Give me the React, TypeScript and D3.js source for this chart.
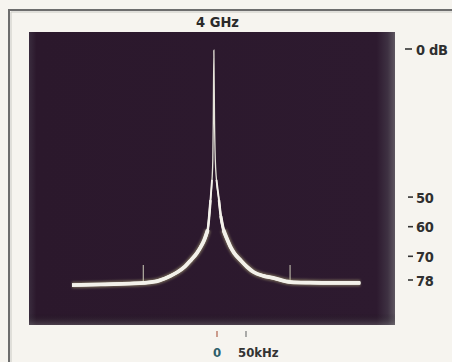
import React from "react";
import * as d3 from "d3";

const title = "4 GHz";
const freqKHz = [-250, -200, -150, -127, -100, -80, -68, -55, -45, -35, -28, -22, -16, -11.2, -8.6, -7.2, -6.4, -5.4, -4.3, -3.0, -0.9, 3.4, 6.5, 11.2, 17, 23.3, 30, 40.5, 52, 63, 80, 97, 127, 160, 200, 247];
const levelDb = [-79.7, -79.5, -79.2, -79.0, -78.2, -76.6, -75.3, -73.4, -71.3, -69.0, -66.8, -64.5, -61.1, -51.0, -44.2, -37.1, -24.0, -0.4, -24.0, -37.1, -44.2, -51.0, -56.4, -61.1, -64.0, -66.8, -69.0, -71.3, -73.6, -75.3, -76.6, -77.3, -78.7, -78.9, -79.0, -79.0];
const markerKHz = [-127, 126];
const markerTopDb = -72.9;
const markerBottomDb = -78.7;
const yTickValues = [0, -50, -60, -70, -78];
const yTickLabels = ["0 dB", "50", "60", "70", "78"];
const xTickValues = [0, 50];
const xTickLabels = ["0", "50kHz"];

const W = 452;
const H = 362;
const panel = { x0: 29, y0: 32, x1: 395, y1: 325 };

type P = { f: number; v: number };

export default function App() {
  const x = d3.scaleLinear().domain([0, 50]).range([217, 246]);
  const y = d3.scaleLinear().domain([0, -78]).range([49, 280]);
  const pts: P[] = freqKHz.map((f, i) => ({ f, v: levelDb[i] }));

  const mk = (thr: number | null) =>
    d3
      .line<P>()
      .defined((d) => (thr === null ? true : d.v <= thr))
      .x((d) => x(d.f))
      .y((d) => y(d.v))
      .curve(d3.curveMonotoneX)(pts) as string;
  const full = mk(null);
  const layers = [
    { thr: -44, w: 1.9 },
    { thr: -50, w: 2.5 },
    { thr: -56, w: 3.1 },
    { thr: -60, w: 3.8 },
  ];
  const glowPath = mk(-60);

  const font = "'DejaVu Sans Condensed', 'Liberation Sans Narrow', 'DejaVu Sans', sans-serif";

  return (
    <svg
      width={W}
      height={H}
      style={{ position: "absolute", left: 0, top: 0, background: "#f6f4ef" }}
    >
      <defs>
        <linearGradient id="panelH" x1="0" x2="1" y1="0" y2="0">
          <stop offset="0" stopColor="#3a2c3e" />
          <stop offset="0.02" stopColor="#2b182c" />
          <stop offset="0.95" stopColor="#2d1a2f" />
          <stop offset="0.98" stopColor="#3e3142" />
          <stop offset="1" stopColor="#5e5660" />
        </linearGradient>
        <linearGradient id="panelV" x1="0" x2="0" y1="0" y2="1">
          <stop offset="0" stopColor="#000" stopOpacity="0" />
          <stop offset="0.96" stopColor="#000" stopOpacity="0" />
          <stop offset="1" stopColor="#888" stopOpacity="0.35" />
        </linearGradient>
        <filter id="glow" x="-20%" y="-20%" width="140%" height="140%">
          <feGaussianBlur stdDeviation="1.3" />
        </filter>
      </defs>
      {/* outer frame */}
      <path d={`M9,${H} L9,10 L${W},10`} fill="none" stroke="#6d6d6d" strokeWidth={2} />
      <path d={`M11,${H} L11,12 L${W},12`} fill="none" stroke="#c9c9c4" strokeWidth={1} />
      <text x={217.5} y={27} textAnchor="middle" fontFamily={font} fontWeight="bold" fontSize={14.5} fill="#2a2a2a">
        {title}
      </text>
      {/* screen */}
      <rect x={panel.x0} y={panel.y0} width={panel.x1 - panel.x0} height={panel.y1 - panel.y0} fill="url(#panelH)" />
      <rect x={panel.x0} y={panel.y0} width={panel.x1 - panel.x0} height={panel.y1 - panel.y0} fill="url(#panelV)" />
      {/* markers */}
      {markerKHz.map((m, i) => (
        <line key={i} x1={x(m)} x2={x(m)} y1={y(markerTopDb)} y2={y(markerBottomDb)} stroke="#a9a49a" strokeWidth={1.3} />
      ))}
      {/* trace */}
      <path d={glowPath} fill="none" stroke="#cfcb8a" strokeOpacity={0.4} strokeWidth={6.5} filter="url(#glow)" />
      <path d={full} fill="none" stroke="#e6e4da" strokeWidth={1.3} />
      {layers.map((l, i) => (
        <path key={i} d={mk(l.thr)} fill="none" stroke="#f3f1ea" strokeWidth={l.w} strokeLinejoin="round" />
      ))}
      {/* right axis */}
      {yTickValues.map((v, i) => (
        <g key={i} transform={`translate(0,${y(v)})`}>
          <line x1={i === 0 ? 405 : 408} x2={i === 0 ? 412 : 413} y1={0} y2={0} stroke="#333" strokeWidth={1.6} />
          <text x={416} y={5.5} fontFamily={font} fontWeight="bold" fontSize={14.5} letterSpacing={-0.3} fill="#2f2f2f">
            {yTickLabels[i]}
          </text>
        </g>
      ))}
      {/* bottom axis */}
      {xTickValues.map((v, i) => (
        <g key={i}>
          <line x1={x(v)} x2={x(v)} y1={331} y2={337} stroke={i === 0 ? "#b0604a" : "#777"} strokeWidth={1.2} />
          <text
            x={i === 0 ? x(v) : x(v) - 8}
            y={357}
            textAnchor={i === 0 ? "middle" : "start"}
            fontFamily={font}
            fontWeight="bold"
            fontSize={13}
            fill={i === 0 ? "#2f5f6a" : "#333"}
          >
            {xTickLabels[i]}
          </text>
        </g>
      ))}
    </svg>
  );
}
